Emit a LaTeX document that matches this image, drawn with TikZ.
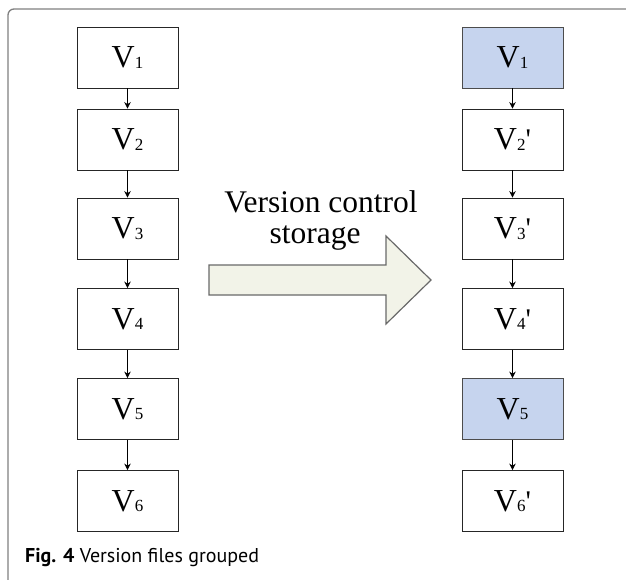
\documentclass[tikz,border=0pt]{standalone}
\usepackage{fontspec}
\setmainfont{Liberation Serif}
\newfontfamily\capfont{PT Sans}
\newfontfamily\primefont[Ligatures=TeXOff]{Liberation Serif}
\usetikzlibrary{arrows.meta}
\definecolor{boxblue}{RGB}{198,212,238}
\definecolor{arrowfill}{RGB}{242,243,232}
\definecolor{framegray}{RGB}{128,128,128}
\definecolor{arrowedge}{RGB}{105,105,105}
\newcommand\vlab[2]{{\fontsize{32}{32}\selectfont V}\raisebox{-0.5pt}{\fontsize{17}{17}\selectfont #1}{\primefont\fontsize{30}{30}\selectfont #2}}
\begin{document}
\begin{tikzpicture}[x=1pt,y=-1pt,
  vbox/.style={draw=black!85,line width=0.9pt,minimum width=101pt,minimum height=61pt,inner sep=0pt,fill=white},
  hbox/.style={vbox,fill=boxblue,draw=black!70},
  link/.style={-{Stealth[length=6.5pt,width=6.5pt]},line width=0.8pt},
]
\useasboundingbox (0,0) rectangle (626,579);
\draw[framegray,line width=1.3pt,rounded corners=6pt] (8,582) -- (8,9) -- (630,9);

% left column
\node[vbox] (l1) at (127.5,57.5) {\vlab{1}{}};
\node[vbox] (l2) at (127.5,139.5) {\vlab{2}{}};
\node[vbox] (l3) at (127.5,228.5) {\vlab{3}{}};
\node[vbox] (l4) at (127.5,319) {\vlab{4}{}};
\node[vbox] (l5) at (127.5,409) {\vlab{5}{}};
\node[vbox] (l6) at (127.5,501) {\vlab{6}{}};

% right column
\node[hbox] (r1) at (512.5,57.5) {\vlab{1}{}};
\node[vbox] (r2) at (512.5,139.5) {\vlab{2}{'}};
\node[vbox] (r3) at (512.5,228.5) {\vlab{3}{'}};
\node[vbox] (r4) at (512.5,319) {\vlab{4}{'}};
\node[hbox] (r5) at (512.5,409) {\vlab{5}{}};
\node[vbox] (r6) at (512.5,501) {\vlab{6}{'}};

\foreach \a/\b in {1/2,2/3,3/4,4/5,5/6}{
  \draw[link] (l\a) -- (l\b);
  \draw[link] (r\a) -- (r\b);
}

% block arrow
\draw[arrowedge,fill=arrowfill,line width=1.2pt]
  (209,265) -- (386,265) -- (386,236) -- (431,280) -- (386,324) -- (386,295) -- (209,295) -- cycle;

\node[anchor=base,inner sep=0pt] (t1) at (321,212) {\fontsize{31.5}{32}\selectfont Version control};
\node[anchor=base,inner sep=0pt] (t2) at (315,243) {\fontsize{31.5}{32}\selectfont storage};

\node[anchor=base west,inner sep=0pt] (cap) at (25,562)
  {\capfont\fontsize{20}{20}\selectfont\textbf{Fig. 4} Version files grouped};
\end{tikzpicture}
\end{document}
